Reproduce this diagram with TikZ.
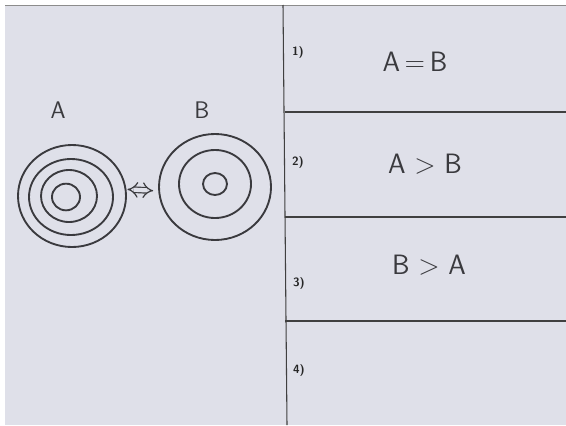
\documentclass[tikz,border=0pt]{standalone}
\usepackage{tikz}
\usetikzlibrary{arrows.meta,positioning,shapes.geometric}
\definecolor{paper}{RGB}{223,224,233}
\definecolor{pencil}{RGB}{58,58,62}
\tikzset{
  sk/ring/.style={draw=pencil, ellipse, line width=1.4pt, inner sep=0pt},
  sk/hand/.style={text=pencil, font=\sffamily\fontsize{21}{21}\selectfont, inner sep=0pt},
  sk/letter/.style={sk/hand, font=\sffamily\fontsize{18}{18}\selectfont},
  sk/num/.style={font=\sffamily\bfseries\fontsize{9}{9}\selectfont, text=black!85, inner sep=0pt},
  sk/rule/.style={draw=black!75, line width=0.8pt},
  sk/swap/.style={draw=pencil, line width=0.9pt, double=paper, double distance=3.2pt, {Implies[scale=1.3]}-{Implies[scale=1.3]}}
}

\begin{document}
\begin{tikzpicture}[x=0.75pt,y=-0.75pt]
  \useasboundingbox (0,0) rectangle (566,425);
  \fill[white] (0,0) rectangle (566,425);
  \fill[paper] (5,5) rectangle (566,425);
  \draw[black!45, line width=0.8pt] (5,5.5) -- (566,5.5);

  % left half: the two targets
  \node[sk/letter] (labA) at (58,110) {A};
  \node[sk/letter] (labB) at (202,110) {B};

  \node[sk/ring, minimum width=81pt, minimum height=76.5pt] (ringA1) at (72,196) {};
  \node[sk/ring, minimum width=63pt, minimum height=57pt] (ringA2) at (71,197) {};
  \node[sk/ring, minimum width=42pt, minimum height=39pt] (ringA3) at (69,196) {};
  \node[sk/ring, minimum width=21pt, minimum height=20pt] (ringA4) at (66,197) {};

  \node[sk/ring, minimum width=84pt, minimum height=79.5pt] (ringB1) at (215,187) {};
  \node[sk/ring, minimum width=54pt, minimum height=51pt] (ringB2) at (215,184) {};
  \node[sk/ring, minimum width=18pt, minimum height=16.5pt] (ringB3) at (215,184) {};

  \draw[sk/swap, shorten <=0.75pt, shorten >=3.75pt] (ringA1.7) -- (ringB1.184);

  % right half: the four answers
  \draw[sk/rule] (283,5) -- (287,425);
  \foreach \y in {112,217,321}
    \draw[sk/rule] (285,\y) -- (566,\y);

  \node[sk/num] (n1) at (298,52) {1)};
  \node[sk/num] (n2) at (298,162) {2)};
  \node[sk/num] (n3) at (299,283) {3)};
  \node[sk/num] (n4) at (299,370) {4)};

  \node[sk/hand] (eq1) at (415,62) {A\,=\,B};
  \node[sk/hand] (eq2) at (425,164) {A > B};
  \node[sk/hand] (eq3) at (429,265) {B > A};
\end{tikzpicture}
\end{document}
